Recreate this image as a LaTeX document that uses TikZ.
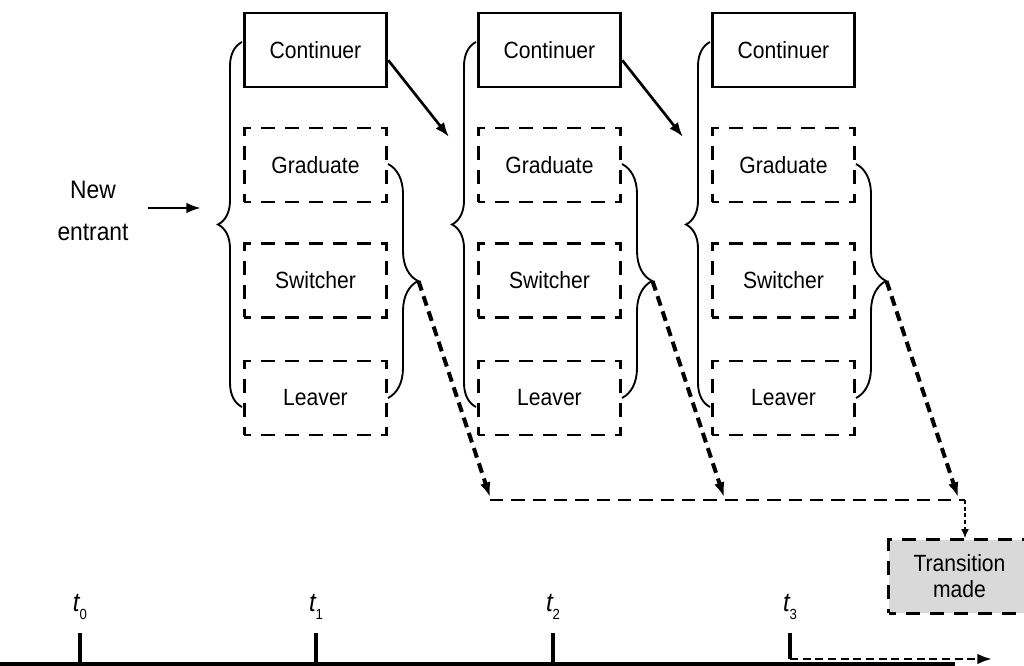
\documentclass[tikz,border=0pt]{standalone}
\usepackage{fontspec}
\setmainfont[FakeStretch=0.9]{Liberation Sans}
\usetikzlibrary{decorations.pathreplacing,arrows.meta}

\begin{document}
\begin{tikzpicture}[x=0.75pt,y=-0.75pt,
  txt/.style={font=\fontsize{17.6}{19.5}\selectfont, align=center, inner sep=0pt},
  solidbox/.style={txt, draw, line width=2.1pt, minimum width=107pt, minimum height=55.5pt},
  dashbox/.style={solidbox, dash pattern=on 10.5pt off 7.5pt, dash phase=5.25pt},
  lbrace/.style={decorate, decoration={brace, amplitude=18pt}, line width=1.4pt},
  rbrace/.style={decorate, decoration={brace, amplitude=22.5pt}, line width=1.4pt},
  arr/.style={line width=2pt, -{Latex[length=11pt,width=8pt]}},
  darr/.style={line width=3pt, dash pattern=on 7.5pt off 4.5pt, -{Latex[length=11pt,width=8pt]}},
  dline/.style={line width=2.1pt, dash pattern=on 10pt off 6pt},
  dotarr/.style={line width=1.5pt, dash pattern=on 3pt off 2pt, -{Latex[length=7pt,width=6pt]}},
  tick/.style={line width=2.4pt},
  tlab/.style={font=\fontsize{20}{22}\selectfont\itshape, inner sep=0pt}
]
\clip (0,0) rectangle (1024,666);

% the three stages, one column each
\foreach \i/\cx in {1/315.5, 2/549.5, 3/783.5} {
  \node[solidbox] (c\i) at (\cx,50)    {Continuer};
  \node[dashbox]  (g\i) at (\cx,165)   {Graduate};
  \node[dashbox]  (s\i) at (\cx,280.5) {Switcher};
  \node[dashbox]  (l\i) at (\cx,398)   {Leaver};
  % brace gathering all four outcomes
  \draw[lbrace] (\cx-73.5,407) -- (\cx-73.5,42);
  \coordinate (in\i) at (\cx-97.5,224.5);
  % brace gathering the three exits
  \draw[rbrace] (\cx+72.5,164) -- (\cx+72.5,398);
  \coordinate (ex\i) at (\cx+103,281);
  \coordinate (ed\i) at (\cx+174.5,497);
  \draw[darr] (ex\i) -- (ed\i);
}

% continuers move on to the next stage
\coordinate (n2) at (449,137);
\coordinate (n3) at (683,137);
\draw[arr] (c1.-8) -- (n2);
\draw[arr] (c2.-8) -- (n3);

% entry
\node[txt, font=\fontsize{19}{32}\selectfont] (ne) at (93,211) {New\\entrant};
\coordinate (ne1) at (148,208);
\draw[arr] (ne1) -- (201,208);

% collecting line of exits and the resulting transition
\coordinate (h1) at (490,500);
\coordinate (h3) at (965,500);
\draw[dline] (h1) -- (h3);
\node[dashbox, fill=black!15, minimum width=106pt, minimum height=55pt] (tm) at (959.5,576.5) {Transition\\made};
\draw[dotarr] (h3) -- (h3 |- tm.north);

% time axis
\draw[line width=3pt] (0,664) -- (955,664);
\foreach \k/\x in {0/80, 1/316, 2/553} {
  \draw[tick] (\x,633) -- (\x,664);
  \node[tlab] (t\k) at (\x,607) {t\raisebox{-6pt}{\normalfont\fontsize{11}{12}\selectfont\k}};
}
\node[tlab] (t3) at (790,607) {t\raisebox{-6pt}{\normalfont\fontsize{11}{12}\selectfont 3}};
\coordinate (t3a) at (790,633);
\coordinate (t3b) at (790,659);
\coordinate (t3c) at (992,659);
\draw[tick] (t3a) -- (t3b);
\draw[line width=2pt, dash pattern=on 6pt off 3.5pt, -{Latex[length=11pt,width=8pt]}] (t3b) -- (t3c);
\end{tikzpicture}
\end{document}
